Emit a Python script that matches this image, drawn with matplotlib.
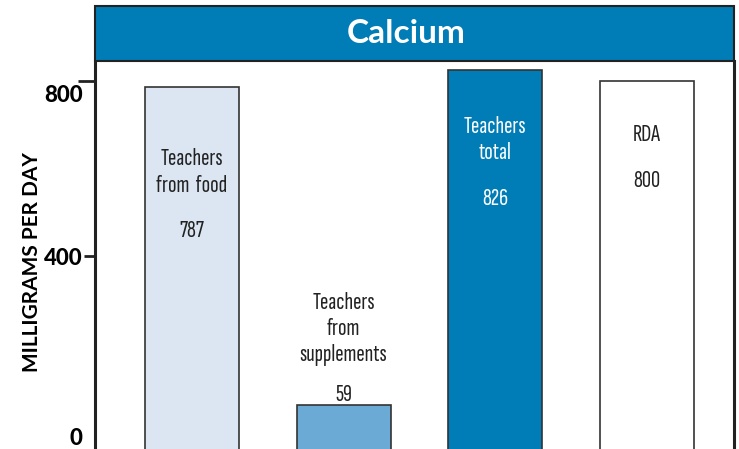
import matplotlib.pyplot as plt
from matplotlib.patches import Rectangle
from matplotlib.transforms import ScaledTranslation

# data
groups = ['Teachers\nfrom  food', 'Teachers\nfrom\nsupplements', 'Teachers\ntotal', 'RDA']
values = [787, 59, 826, 800]
value_labels = ['787', '59', '826', '800']
colors = ['#dce6f2', '#6aaad4', '#007cb6', '#ffffff']
text_colors = ['#222222', '#222222', '#ffffff', '#222222']
yticks = [0, 400, 800]

cond = ['Sofia Sans Extra Condensed', 'DejaVu Sans']
bold = ['Lato', 'DejaVu Sans']

fig = plt.figure(figsize=(7.39, 4.49), dpi=100)
W, H = 739, 449
ax = fig.add_axes([95 / W, 0, (734 - 95) / W, (449 - 61) / H])

# bars run off the bottom of the picture, as in the original
base = -80
x = range(len(values))
ax.bar(x, [v - base for v in values], bottom=base, width=0.62, color=colors,
       edgecolor='#333333', linewidth=1.2, zorder=2)

ax.set_xlim(-0.638, 3.572)
ax.set_ylim(-41, 846)

# label positions (data units) for text inside / above bars
label_y = [591, 233, 666, 677]
value_y = [457, 82, 530, 571]
for i in x:
    ax.text(i, label_y[i], groups[i], ha='center', va='center', fontsize=18,
            family=cond, color=text_colors[i], linespacing=1.25)
    ax.text(i, value_y[i], value_labels[i], ha='center', va='center', fontsize=18,
            family=cond, color=text_colors[i])

ax.set_xticks([])
ax.set_yticks(yticks)
ax.set_yticklabels([str(t) for t in yticks], fontsize=16, fontweight='black', family=bold)
ax.tick_params(axis='y', length=8, width=2, color='#222222', pad=1)
ticks = ax.yaxis.get_major_ticks()
ticks[0].tick1line.set_markersize(0)
ticks[2].tick1line.set_markersize(12)
# 800 and 0 labels sit a little below their ticks
for t, dy in [(ticks[2], -12), (ticks[0], -5)]:
    lab = t.label1
    lab.set_transform(lab.get_transform() + ScaledTranslation(0, dy / 100, fig.dpi_scale_trans))

ax.set_ylabel('MILLIGRAMS PER DAY', fontsize=15, fontweight='bold', family=bold)
ax.yaxis.set_label_coords(-0.083, 0.482)

for s in ['bottom', 'top']:
    ax.spines[s].set_visible(False)
for s in ['left', 'right']:
    ax.spines[s].set_linewidth(2.2)
    ax.spines[s].set_color('#222222')

# title band
hb = 55 / 388
ax.add_patch(Rectangle((0, 1), 1, hb, transform=ax.transAxes, facecolor='#007cb6',
                       edgecolor='#222222', linewidth=1.5, clip_on=False, zorder=3))
ax.text(0.487, 1 + hb / 2, 'Calcium', transform=ax.transAxes, ha='center', va='center',
        fontsize=24, fontweight='bold', family=bold, color='white', zorder=4)

fig.savefig('out.png', dpi=100)
